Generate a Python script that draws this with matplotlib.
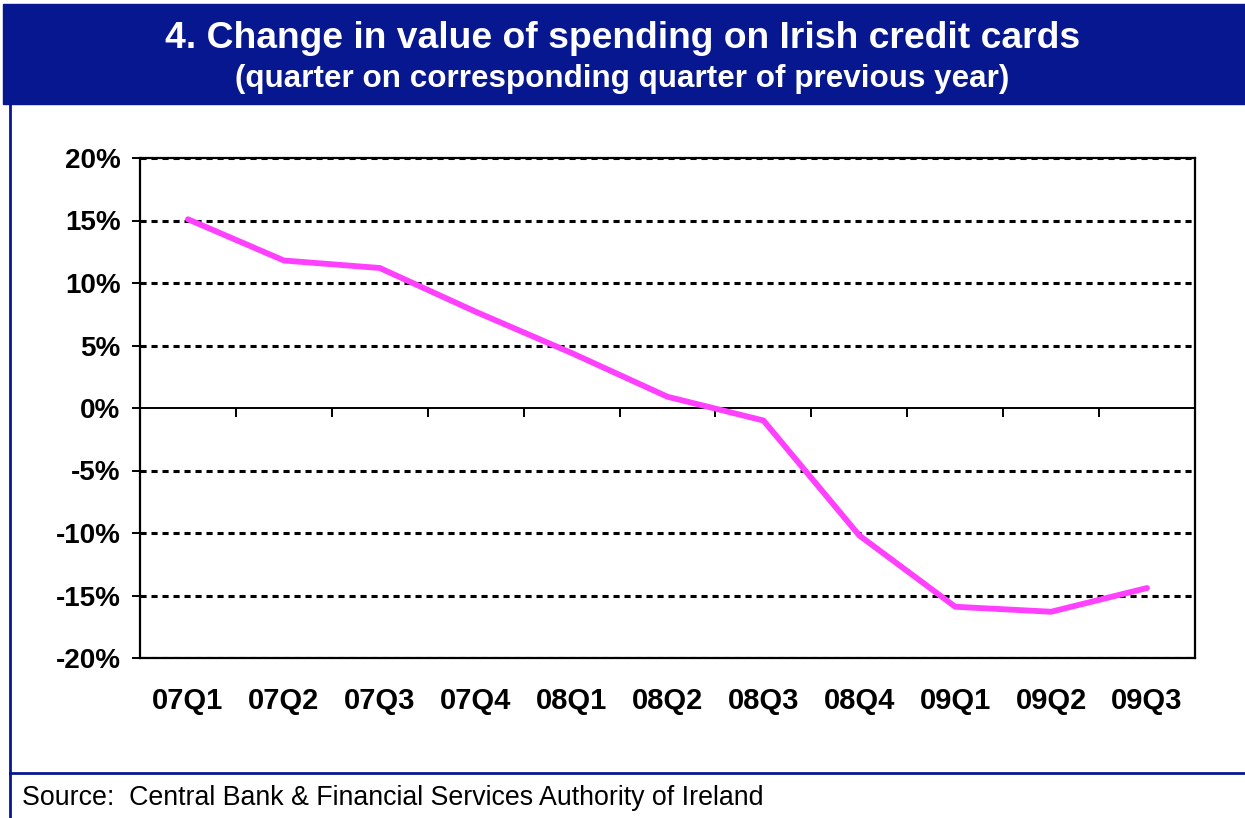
import matplotlib.pyplot as plt
from matplotlib.patches import Rectangle
from matplotlib.lines import Line2D

# data
quarters = ['07Q1', '07Q2', '07Q3', '07Q4', '08Q1', '08Q2',
            '08Q3', '08Q4', '09Q1', '09Q2', '09Q3']
change = [15.1, 11.8, 11.2, 7.7, 4.4, 0.9, -1.0, -10.2, -15.9, -16.3, -14.4]
yticks = [-20, -15, -10, -5, 0, 5, 10, 15, 20]

title = '4. Change in value of spending on Irish credit cards'
subtitle = '(quarter on corresponding quarter of previous year)'
source = 'Source:  Central Bank & Financial Services Authority of Ireland'

navy = '#06178F'
plt.rcParams['font.family'] = ['Liberation Sans', 'DejaVu Sans']

fig = plt.figure(figsize=(12.45, 8.18), dpi=100)

# header band and frame lines
fig.patches.append(Rectangle((3 / 1245, 1 - 104 / 818), 1, 100 / 818,
                             transform=fig.transFigure, color=navy, zorder=0))
fig.lines.append(Line2D([10 / 1245, 10 / 1245], [0, 1 - 104 / 818],
                        transform=fig.transFigure, color=navy, lw=2))
fig.lines.append(Line2D([10 / 1245, 1], [1 - 773 / 818, 1 - 773 / 818],
                        transform=fig.transFigure, color=navy, lw=2))

fig.text(0.5, 1 - 38 / 818, title, ha='center', va='center', color='white',
         fontsize=26.8, fontweight='bold')
fig.text(0.5, 1 - 79 / 818, subtitle, ha='center', va='center', color='white',
         fontsize=22.6, fontweight='bold')
fig.text(22 / 1245, 1 - 798 / 818, source, ha='left', va='center',
         fontsize=19.3, color='black')

ax = fig.add_axes([140 / 1245, 1 - 658 / 818, 1055 / 1245, 500 / 818])
x = list(range(len(quarters)))

for v in yticks:
    if v != 0:
        ax.axhline(v, color='black', lw=2.2, ls=(0, (2, 1.6)), zorder=1)
ax.axhline(0, color='black', lw=1.4, zorder=2)
bounds = [i + 0.5 for i in x[:-1]]
ax.vlines(bounds, -0.7, 0, color='black', lw=1.4, zorder=2)

ax.plot(x, change, color='#FF40FF', lw=4.2, solid_capstyle='round',
        solid_joinstyle='miter', zorder=3)

ax.set_xlim(-0.5, len(quarters) - 0.5)
ax.set_ylim(-20, 20)
ax.set_yticks(yticks)
ax.set_yticklabels([f'{v}%' for v in yticks], fontsize=20, fontweight='bold')
ax.tick_params(axis='y', direction='out', length=6, width=1.4, pad=8)
ax.set_xticks(x)
ax.set_xticklabels(quarters, fontsize=21, fontweight='bold')
ax.tick_params(axis='x', length=0, pad=21)
for s in ax.spines.values():
    s.set_linewidth(1.6)

fig.savefig('out.png', dpi=100)
